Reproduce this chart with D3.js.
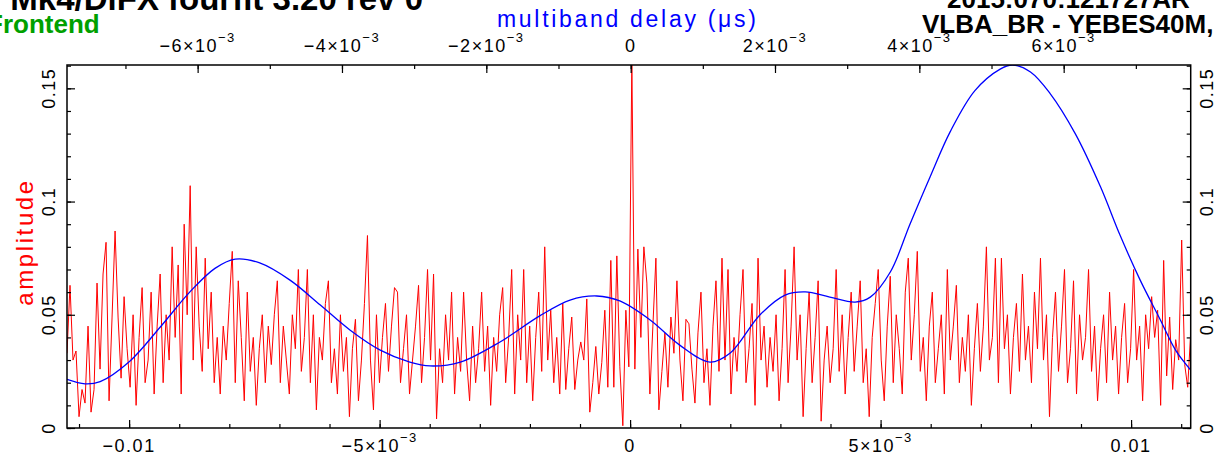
<!DOCTYPE html>
<html lang="en">
<head>
    <meta charset="UTF-8">
    <title>fourfit delay rate / multiband delay</title>
    <style>
        body { margin: 0; background: #fff; }
        text { font-family: "Liberation Sans", Arial, sans-serif; }
        .tick line { stroke: #000; stroke-width: 1.2px; }
    </style>
</head>
<body>
<div id="chart"></div>

<script src="https://cdn.jsdelivr.net/npm/d3@7"></script>
<script>
    // delay rate spectrum (red), sampled evenly over the bottom axis range
    var rateRange = [-0.01124, 0.01119];
    var rateAmp = [
        0.033, 0.063, 0.030, 0.034, 0.005, 0.017, 0.011, 0.045, 0.007, 0.017,
        0.064, 0.026, 0.068, 0.082, 0.012, 0.049, 0.087, 0.049, 0.022, 0.058,
        0.035, 0.018, 0.050, 0.010, 0.040, 0.062, 0.020, 0.030, 0.060, 0.015,
        0.045, 0.068, 0.020, 0.050, 0.030, 0.080, 0.040, 0.072, 0.015, 0.090,
        0.050, 0.107, 0.030, 0.080, 0.045, 0.025, 0.075, 0.035, 0.060, 0.020,
        0.040, 0.015, 0.045, 0.030, 0.055, 0.078, 0.020, 0.065, 0.040, 0.012,
        0.060, 0.025, 0.040, 0.010, 0.035, 0.050, 0.020, 0.045, 0.028, 0.050,
        0.065, 0.020, 0.045, 0.030, 0.015, 0.050, 0.035, 0.070, 0.025, 0.040,
        0.070, 0.020, 0.050, 0.008, 0.040, 0.030, 0.055, 0.065, 0.020, 0.035,
        0.015, 0.050, 0.025, 0.040, 0.005, 0.035, 0.048, 0.012, 0.030, 0.055,
        0.085, 0.030, 0.008, 0.050, 0.020, 0.040, 0.055, 0.025, 0.045, 0.062,
        0.060, 0.020, 0.035, 0.050, 0.015, 0.030, 0.045, 0.063, 0.020, 0.040,
        0.070, 0.030, 0.068, 0.004, 0.035, 0.020, 0.050, 0.030, 0.060, 0.015,
        0.040, 0.025, 0.060, 0.030, 0.012, 0.045, 0.020, 0.035, 0.060, 0.025,
        0.045, 0.010, 0.040, 0.025, 0.050, 0.062, 0.020, 0.040, 0.070, 0.015,
        0.050, 0.030, 0.070, 0.020, 0.045, 0.012, 0.040, 0.060, 0.025, 0.080,
        0.030, 0.052, 0.020, 0.040, 0.015, 0.055, 0.017, 0.035, 0.049, 0.017,
        0.030, 0.038, 0.030, 0.057, 0.007, 0.020, 0.036, 0.015, 0.029, 0.052,
        0.018, 0.074, 0.018, 0.076, 0.027, 0.001, 0.052, 0.027, 0.162, 0.026,
        0.079, 0.040, 0.080, 0.064, 0.015, 0.045, 0.075, 0.008, 0.025, 0.042,
        0.018, 0.049, 0.033, 0.065, 0.030, 0.012, 0.048, 0.046, 0.026, 0.011,
        0.042, 0.060, 0.020, 0.035, 0.010, 0.045, 0.065, 0.025, 0.075, 0.030,
        0.070, 0.015, 0.040, 0.025, 0.050, 0.070, 0.020, 0.035, 0.055, 0.010,
        0.075, 0.030, 0.045, 0.018, 0.040, 0.025, 0.050, 0.012, 0.035, 0.070,
        0.020, 0.045, 0.080, 0.030, 0.050, 0.005, 0.035, 0.060, 0.020, 0.040,
        0.065, 0.003, 0.030, 0.045, 0.020, 0.035, 0.070, 0.025, 0.050, 0.015,
        0.040, 0.060, 0.025, 0.045, 0.065, 0.020, 0.035, 0.005, 0.040, 0.055,
        0.070, 0.030, 0.012, 0.045, 0.067, 0.020, 0.050, 0.035, 0.015, 0.060,
        0.075, 0.030, 0.050, 0.078, 0.025, 0.040, 0.012, 0.045, 0.060, 0.020,
        0.035, 0.050, 0.015, 0.070, 0.030, 0.045, 0.063, 0.020, 0.040, 0.025,
        0.050, 0.010, 0.035, 0.055, 0.025, 0.045, 0.080, 0.030, 0.040, 0.075,
        0.020, 0.075, 0.035, 0.050, 0.015, 0.040, 0.055, 0.025, 0.068, 0.030,
        0.045, 0.020, 0.060, 0.035, 0.075, 0.030, 0.050, 0.005, 0.040, 0.060,
        0.025, 0.045, 0.070, 0.020, 0.035, 0.065, 0.015, 0.050, 0.030, 0.040,
        0.070, 0.025, 0.045, 0.012, 0.035, 0.050, 0.020, 0.060, 0.030, 0.045,
        0.015, 0.040, 0.055, 0.020, 0.035, 0.070, 0.030, 0.045, 0.012, 0.050,
        0.035, 0.058, 0.040, 0.052, 0.010, 0.074, 0.023, 0.049, 0.017, 0.039,
        0.030, 0.083, 0.028, 0.018, 0.042
    ];

    // multiband delay resolution function (blue), top axis
    var mbdRange = [-0.00781, 0.00776];
    var mbdDelay = [-0.00781, -0.00756, -0.00735, -0.00694, -0.00652, -0.00611, -0.00576, -0.00548,
        -0.00514, -0.00472, -0.00430, -0.00389, -0.00347, -0.00306, -0.00278, -0.00236, -0.00181,
        -0.00126, -0.00084, -0.00047, -0.00015, 0.00027, 0.00068, 0.00110, 0.00138, 0.00179,
        0.00214, 0.00242, 0.00276, 0.00311, 0.00332, 0.00360, 0.00387, 0.00415, 0.00443, 0.00477,
        0.00512, 0.00529, 0.00554, 0.00581, 0.00616, 0.00651, 0.00678, 0.00706, 0.00734, 0.00755,
        0.00776];
    var mbdAmp = [0.0215, 0.0195, 0.0205, 0.0295, 0.0445, 0.0600, 0.0705, 0.0746,
        0.0729, 0.0653, 0.0543, 0.0433, 0.0344, 0.0291, 0.0274, 0.0291, 0.0380,
        0.0495, 0.0565, 0.0583, 0.0561, 0.0477, 0.0366, 0.0291, 0.0331, 0.0499,
        0.0587, 0.0601, 0.0578, 0.0556, 0.0578, 0.0690, 0.0900, 0.1110, 0.1310, 0.1490,
        0.1585, 0.1603, 0.1572, 0.1478, 0.1300, 0.1065, 0.0852, 0.0653, 0.0477, 0.0344,
        0.0256];

    var ampRange = [0, 0.1603];
    var ampTicks = [0, 0.05, 0.1, 0.15];
    var ampTickLabels = ["0", "0.05", "0.1", "0.15"];
    var topTicks = [-0.006, -0.004, -0.002, 0, 0.002, 0.004, 0.006];
    var bottomTicks = [-0.01, -0.005, 0, 0.005, 0.01];

    var width = 1218, height = 457;
    var plotLeft = 67, plotRight = 1190.7, plotTop = 65, plotBottom = 428;

    var svg = d3.select("#chart").append("svg")
        .attr("width", width)
        .attr("height", height);

    var xRate = d3.scaleLinear().domain(rateRange).range([plotLeft, plotRight]);
    var xMbd = d3.scaleLinear().domain(mbdRange).range([plotLeft, plotRight]);
    var y = d3.scaleLinear().domain(ampRange).range([plotBottom, plotTop]);

    svg.append("clipPath").attr("id", "plotclip")
        .append("rect")
        .attr("x", plotLeft).attr("y", plotTop)
        .attr("width", plotRight - plotLeft).attr("height", plotBottom - plotTop);

    var step = (rateRange[1] - rateRange[0]) / (rateAmp.length - 1);
    var rateData = rateAmp.map(function (a, i) {
        return {x: rateRange[0] + i * step, y: a};
    });
    var mbdData = mbdDelay.map(function (d, i) {
        return {x: d, y: mbdAmp[i]};
    });

    var plot = svg.append("g").attr("clip-path", "url(#plotclip)");

    plot.append("path")
        .datum(rateData)
        .attr("d", d3.line()
            .x(function (d) { return xRate(d.x); })
            .y(function (d) { return y(d.y); }))
        .attr("fill", "none")
        .attr("stroke", "#ff0000")
        .attr("stroke-width", 1);

    plot.append("path")
        .datum(mbdData)
        .attr("d", d3.line()
            .curve(d3.curveCatmullRom)
            .x(function (d) { return xMbd(d.x); })
            .y(function (d) { return y(d.y); }))
        .attr("fill", "none")
        .attr("stroke", "#0000ff")
        .attr("stroke-width", 1.3);

    // ticks (pointing inward), major + minor
    function ticks(axis, values, size, transform) {
        var g = svg.append("g")
            .attr("transform", transform)
            .call(axis.tickValues(values).tickSize(size).tickFormat(""));
        g.select(".domain").remove();
    }

    var ampMinor = d3.range(0, 0.1601, 0.01);
    ticks(d3.axisLeft(y), ampMinor, -4, "translate(" + plotLeft + ",0)");
    ticks(d3.axisLeft(y), ampTicks, -8, "translate(" + plotLeft + ",0)");
    ticks(d3.axisRight(y), ampMinor, -4, "translate(" + plotRight + ",0)");
    ticks(d3.axisRight(y), ampTicks, -8, "translate(" + plotRight + ",0)");

    ticks(d3.axisTop(xMbd), d3.range(-0.007, 0.0075, 0.001), -4, "translate(0," + plotTop + ")");
    ticks(d3.axisTop(xMbd), topTicks, -8, "translate(0," + plotTop + ")");
    ticks(d3.axisBottom(xRate), d3.range(-0.011, 0.0115, 0.001), -4, "translate(0," + plotBottom + ")");
    ticks(d3.axisBottom(xRate), bottomTicks, -8, "translate(0," + plotBottom + ")");

    svg.append("rect")
        .attr("x", plotLeft).attr("y", plotTop)
        .attr("width", plotRight - plotLeft).attr("height", plotBottom - plotTop)
        .attr("fill", "none")
        .attr("stroke", "#000")
        .attr("stroke-width", 1.5);

    // PGPLOT style labels: 0.01 or 5x10^-3
    function sciLabel(sel, v) {
        if (v === 0) { sel.append("tspan").text("0"); return; }
        var e = Math.floor(Math.log10(Math.abs(v)) + 1e-9);
        if (e >= -2) {
            sel.append("tspan").text((v < 0 ? "\u2212" : "") + Math.abs(v));
            return;
        }
        var m = Math.round(v / Math.pow(10, e));
        sel.append("tspan").text((m < 0 ? "\u2212" : "") + Math.abs(m) + "\u00d710");
        sel.append("tspan").attr("font-size", "13px").attr("dy", -10)
            .text("\u2212" + Math.abs(e));
    }

    topTicks.forEach(function (v) {
        var t = svg.append("text")
            .attr("x", xMbd(v)).attr("y", 52)
            .attr("text-anchor", "middle")
            .attr("font-size", "18px")
            .attr("letter-spacing", "1.5px")
            .attr("fill", "#000");
        sciLabel(t, v);
    });

    bottomTicks.forEach(function (v) {
        var t = svg.append("text")
            .attr("x", xRate(v)).attr("y", 452)
            .attr("text-anchor", "middle")
            .attr("font-size", "18px")
            .attr("letter-spacing", "1.5px")
            .attr("fill", "#000");
        sciLabel(t, v);
    });

    ampTicks.forEach(function (v, i) {
        [55, 1213].forEach(function (xp) {
            svg.append("text")
                .attr("transform", "translate(" + xp + "," + y(v) + ") rotate(-90)")
                .attr("text-anchor", "middle")
                .attr("font-size", "18px")
                .attr("letter-spacing", "1.5px")
                .attr("fill", "#000")
                .text(ampTickLabels[i]);
        });
    });

    // axis titles
    svg.append("text")
        .attr("transform", "translate(33,242) rotate(-90)")
        .attr("text-anchor", "middle")
        .attr("font-size", "24px")
        .attr("letter-spacing", "2.6px")
        .attr("fill", "#ff0000")
        .text("amplitude");

    svg.append("text")
        .attr("x", 497).attr("y", 27)
        .attr("font-size", "23px")
        .attr("letter-spacing", "2.7px")
        .attr("fill", "#0000ff")
        .text("multiband delay (\u03bcs)");

    svg.append("text")
        .attr("x", 526).attr("y", 475)
        .attr("font-size", "23px")
        .attr("letter-spacing", "2.7px")
        .attr("fill", "#ff0000")
        .text("delay rate (ps/s)");

    // header text, cut off by the frame of the picture
    svg.append("text")
        .attr("x", 423).attr("y", 10)
        .attr("text-anchor", "end")
        .attr("font-size", "33px")
        .attr("font-weight", "bold")
        .attr("fill", "#000")
        .text("Mk4/DiFX fourfit 3.20 rev 0");

    svg.append("text")
        .attr("x", -13).attr("y", 33)
        .attr("font-size", "26px")
        .attr("font-weight", "bold")
        .attr("fill", "#00a000")
        .text("Frontend");

    svg.append("text")
        .attr("x", 947).attr("y", 8)
        .attr("font-size", "26px")
        .attr("font-weight", "bold")
        .attr("fill", "#000")
        .text("2015:070:121727AR");

    svg.append("text")
        .attr("x", 922).attr("y", 33)
        .attr("font-size", "26px")
        .attr("font-weight", "bold")
        .attr("fill", "#000")
        .text("VLBA_BR - YEBES40M, ");
</script>
</body>
</html>
